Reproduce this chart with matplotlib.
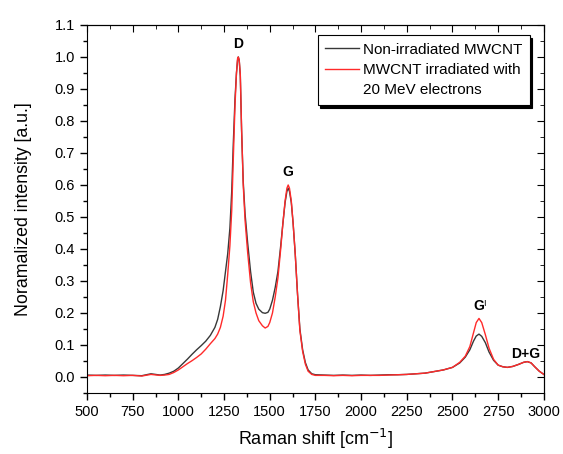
import matplotlib
matplotlib.use("Agg")
import matplotlib.pyplot as plt
from matplotlib.ticker import MultipleLocator, FormatStrFormatter

plt.rcParams['font.family'] = ['Liberation Sans', 'DejaVu Sans']

# Raman shift grid (cm^-1)
shift = [500, 550, 600, 650, 700, 750, 800, 850, 900, 925, 950, 975, 1000, 1025,
         1050, 1075, 1100, 1125, 1150, 1175, 1200, 1215, 1230, 1245, 1258, 1270,
         1282, 1292, 1300, 1310, 1318, 1324, 1328, 1333, 1339, 1346, 1355, 1365,
         1379, 1395, 1410, 1425, 1440, 1460, 1475, 1490, 1500, 1515,
         1530, 1545, 1560, 1572, 1584, 1594, 1601, 1608, 1618, 1628, 1640, 1652,
         1665, 1680, 1695, 1710, 1730, 1750, 1800, 1850, 1900, 1950, 2000, 2050,
         2100, 2150, 2200, 2250, 2300, 2350, 2400, 2450, 2500, 2540, 2570, 2595,
         2615, 2630, 2645, 2660, 2680, 2700, 2725, 2750, 2775, 2800, 2830, 2860,
         2890, 2910, 2930, 2950, 2975, 3000]

non_irradiated = [0.006, 0.005, 0.006, 0.005, 0.006, 0.005, 0.004, 0.010, 0.006, 0.008,
                  0.012, 0.018, 0.028, 0.042, 0.056, 0.071, 0.085, 0.098, 0.112, 0.130,
                  0.155, 0.180, 0.220, 0.270, 0.330, 0.385, 0.465, 0.580, 0.720, 0.870,
                  0.950, 0.990, 1.000, 0.990, 0.940, 0.770, 0.610, 0.510, 0.420,
                  0.330, 0.265, 0.230, 0.212, 0.201, 0.199, 0.202, 0.212, 0.240,
                  0.280, 0.330, 0.410, 0.480, 0.545, 0.580, 0.590, 0.580, 0.545, 0.480,
                  0.380, 0.260, 0.150, 0.085, 0.045, 0.022, 0.010, 0.007, 0.006, 0.005,
                  0.006, 0.005, 0.006, 0.005, 0.006, 0.007, 0.007, 0.008, 0.010, 0.012,
                  0.017, 0.022, 0.030, 0.044, 0.062, 0.085, 0.112, 0.128, 0.134, 0.127,
                  0.107, 0.078, 0.052, 0.037, 0.032, 0.030, 0.033, 0.039, 0.046, 0.048,
                  0.044, 0.032, 0.018, 0.008]

irradiated = [0.004, 0.005, 0.004, 0.005, 0.004, 0.005, 0.003, 0.008, 0.005, 0.006,
              0.008, 0.014, 0.022, 0.032, 0.042, 0.051, 0.061, 0.072, 0.087, 0.104,
              0.120, 0.134, 0.155, 0.190, 0.240, 0.320, 0.410, 0.520, 0.670, 0.850,
              0.950, 0.995, 1.000, 0.990, 0.945, 0.775, 0.600, 0.490, 0.390,
              0.295, 0.235, 0.200, 0.176, 0.160, 0.153, 0.158, 0.170, 0.200,
              0.250, 0.310, 0.400, 0.480, 0.550, 0.590, 0.600, 0.590, 0.550, 0.480,
              0.380, 0.260, 0.145, 0.080, 0.040, 0.018, 0.008, 0.005, 0.005, 0.004,
              0.005, 0.004, 0.005, 0.005, 0.005, 0.006, 0.007, 0.008, 0.010, 0.012,
              0.017, 0.022, 0.030, 0.046, 0.065, 0.095, 0.138, 0.170, 0.183, 0.170,
              0.132, 0.090, 0.055, 0.037, 0.032, 0.030, 0.033, 0.039, 0.046, 0.048,
              0.044, 0.032, 0.018, 0.008]

peak_labels = ["D", "G", "G", "D+G"]
peak_x = [1328, 1601, 2645, 2900]
peak_y = [1.027, 0.628, 0.209, 0.059]

fig = plt.figure(figsize=(5.63, 4.54), dpi=100)
ax = fig.add_axes([0.1545, 0.1344, 0.8115, 0.8106])

ax.plot(shift, non_irradiated, color='#383838', lw=1.0, label='Non-irradiated MWCNT')
ax.plot(shift, irradiated, color='#ff2a2a', lw=1.0, label='MWCNT irradiated with')
ax.plot([], [], color='none', label='20 MeV electrons')

ax.set_xlim(500, 3000)
ax.set_ylim(-0.05, 1.1)
ax.xaxis.set_major_locator(MultipleLocator(250))
ax.xaxis.set_minor_locator(MultipleLocator(125))
ax.yaxis.set_major_locator(MultipleLocator(0.1))
ax.yaxis.set_minor_locator(MultipleLocator(0.05))
ax.yaxis.set_major_formatter(FormatStrFormatter('%.1f'))
ax.tick_params(which='both', direction='out', labelsize=10.5, width=1.0)
ax.tick_params(which='major', length=5)
ax.tick_params(which='minor', length=3)

sec_top = ax.secondary_xaxis('top')
sec_top.xaxis.set_major_locator(MultipleLocator(250))
sec_top.xaxis.set_minor_locator(MultipleLocator(125))
sec_top.tick_params(which='both', direction='in', labeltop=False)
sec_top.tick_params(which='major', length=5)
sec_top.tick_params(which='minor', length=3)

sec_right = ax.secondary_yaxis('right')
sec_right.yaxis.set_major_locator(MultipleLocator(0.1))
sec_right.yaxis.set_minor_locator(MultipleLocator(0.05))
sec_right.tick_params(which='both', direction='in', labelright=False)
sec_right.tick_params(which='major', length=5)
sec_right.tick_params(which='minor', length=3)

ax.set_xlabel('Raman shift [cm$^{-1}$]', fontsize=13, labelpad=6)
ax.set_ylabel('Noramalized intensity [a.u.]', fontsize=12.8, labelpad=16)

for lab, px, py in zip(peak_labels, peak_x, peak_y):
    ax.text(px, py, lab, ha='center', va='baseline', fontsize=10, fontweight='bold')
ax.annotate('I', xy=(peak_x[2], peak_y[2]), xytext=(3.3, 3), textcoords='offset points',
            fontsize=6.5, ha='left', va='baseline')

leg = ax.legend(loc='upper right', bbox_to_anchor=(0.969, 0.973), fontsize=11,
                frameon=True, fancybox=False,
                shadow={'facecolor': 'black', 'edgecolor': 'black', 'alpha': 1},
                handlelength=2.2, handletextpad=0.25, borderpad=0.5,
                borderaxespad=0, labelspacing=0.42, edgecolor='black')
leg.get_frame().set_linewidth(0.8)
leg.get_frame().set_alpha(1)
leg._legend_box.sep = 0
for h in leg.legend_handles:
    pass

fig.savefig('out.png', dpi=100)
